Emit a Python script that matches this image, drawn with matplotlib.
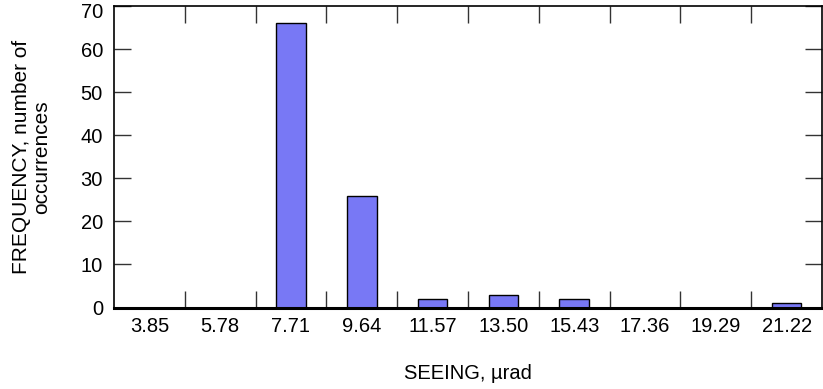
import matplotlib.pyplot as plt
import matplotlib.transforms as mtransforms
import numpy as np

plt.rcParams['font.family'] = ['Liberation Sans', 'DejaVu Sans']
plt.rcParams['font.size'] = 14.5

seeing = ["3.85", "5.78", "7.71", "9.64", "11.57", "13.50", "15.43", "17.36", "19.29", "21.22"]
counts = [0, 0, 66, 26, 2, 3, 2, 0, 0, 1]

fig = plt.figure(figsize=(8.23, 3.89), dpi=100)
ax = fig.add_axes([114 / 823, 1 - 307.5 / 389, 708 / 823, 301.5 / 389])

x = np.arange(len(seeing))
ax.bar(x, counts, width=0.42, color="#7878f5", edgecolor="black", linewidth=1.0, zorder=2)

ax.set_xlim(-0.5, len(seeing) - 0.5)
ax.set_ylim(0, 70)

# categories labelled at centres, ticks drawn at the boundaries
ax.set_xticks(x)
ax.set_xticklabels(seeing)
ax.set_xticks(x[:-1] + 0.5, minor=True)
ax.tick_params(axis='x', which='major', length=0, pad=7)
ax.tick_params(axis='x', which='minor', direction='in', length=12, width=1,
               top=True, bottom=True, color='#333333')

ax.set_yticks(np.arange(0, 71, 10))
ax.tick_params(axis='y', direction='in', length=12, width=1, left=True, right=True,
               color='#333333', pad=8)

# keep the top label inside the figure
top_lbl = ax.get_yticklabels()[-1]
top_lbl.set_transform(top_lbl.get_transform() +
                      mtransforms.ScaledTranslation(0, -5 / 100, fig.dpi_scale_trans))

for side in ['left', 'right', 'top']:
    ax.spines[side].set_linewidth(1.2)
ax.spines['bottom'].set_linewidth(2.2)

ax.set_xlabel("SEEING, µrad", labelpad=20)
ax.set_ylabel("FREQUENCY, number of\noccurrences", labelpad=21, linespacing=1.1,
              fontsize=15)

fig.savefig("out.png", dpi=100)
